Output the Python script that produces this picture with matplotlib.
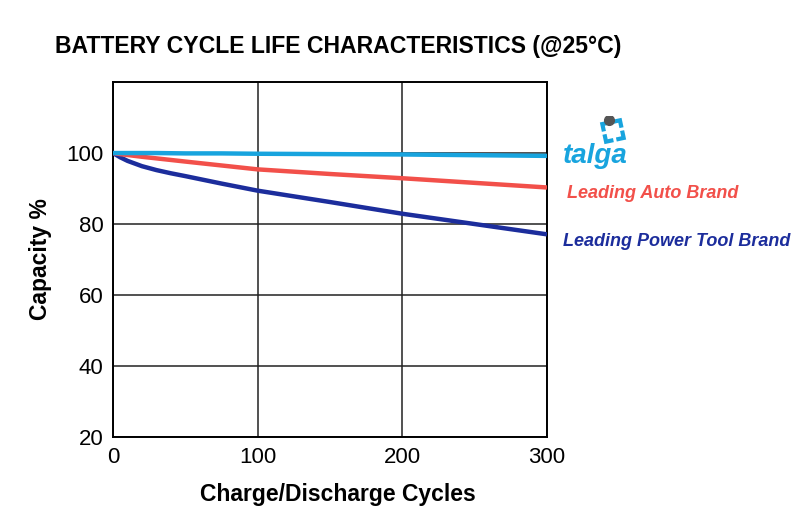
import matplotlib.pyplot as plt
import numpy as np

plt.rcParams['font.family'] = ['Liberation Sans', 'DejaVu Sans']

cycles = [0, 5, 10, 20, 30, 40, 50, 75, 100, 150, 200, 250, 300]
talga = [100, 100, 100, 100, 100, 99.95, 99.9, 99.9, 99.8, 99.7, 99.6, 99.4, 99.2]
auto_brand = [100, 99.7, 99.45, 98.95, 98.5, 98.05, 97.6, 96.5, 95.4, 94.1, 92.9, 91.6, 90.3]
power_tool = [100, 98.8, 97.8, 96.3, 95.2, 94.3, 93.5, 91.4, 89.4, 86.2, 82.9, 80.0, 77.1]

x_ticks = [0, 100, 200, 300]
y_ticks = [20, 40, 60, 80, 100]

c_talga = "#18a4de"
c_auto = "#f2504a"
c_power = "#1c2d9c"

fig = plt.figure(figsize=(8.05, 5.28), dpi=100)
ax = fig.add_axes([0.1404, 0.1723, 0.5391, 0.6723])

ax.plot(cycles, power_tool, color=c_power, lw=3.2, solid_capstyle="butt", zorder=3)
ax.plot(cycles, auto_brand, color=c_auto, lw=3.2, solid_capstyle="butt", zorder=4)
ax.plot(cycles, talga, color=c_talga, lw=3.2, solid_capstyle="butt", zorder=5)

ax.set_xlim(0, 300); ax.set_ylim(20, 120)
ax.set_xticks(x_ticks); ax.set_yticks(y_ticks)
ax.tick_params(length=0, labelsize=16, pad=7)
ax.grid(True, color="#222222", lw=1.1)
for s in ax.spines.values():
    s.set_linewidth(1.4); s.set_color("black")

ax.set_xlabel("Charge/Discharge Cycles", fontsize=16.5, fontweight="bold", va="center")
ax.xaxis.set_label_coords(0.518, -0.163)
ax.set_ylabel("Capacity %", fontsize=16.5, fontweight="bold", labelpad=10)

fig.text(55/805, 1 - 46/528, "BATTERY CYCLE LIFE CHARACTERISTICS (@25°C)",
         fontsize=16.6, fontweight="bold", ha="left", va="center")

# series labels at right
fig.text(563/805, 1 - 156/528, "talga", color=c_talga, fontsize=20,
         fontweight="bold", style="italic", ha="left", va="center")
fig.text(567/805, 1 - 194/528, "Leading Auto Brand", color=c_auto, fontsize=13,
         fontweight="bold", style="italic", ha="left", va="center")
fig.text(563/805, 1 - 242/528, "Leading Power Tool Brand", color=c_power, fontsize=13,
         fontweight="bold", style="italic", ha="left", va="center")

# small logo icon: four corner brackets around a square, grey tip on top
logo = fig.add_axes([598/805, 1 - 146/528, 30/805, 30/528])
logo.set_xlim(0, 1); logo.set_ylim(0, 1); logo.axis("off")
th = np.deg2rad(12)
rot = np.array([[np.cos(th), -np.sin(th)], [np.sin(th), np.cos(th)]])
for cx, cy in [(-1, -1), (-1, 1), (1, -1), (1, 1)]:
    pts = np.array([[cx * 0.3, cy * 0.05], [cx * 0.3, cy * 0.3], [cx * 0.05, cy * 0.3]])
    pts = pts @ rot.T + 0.5
    logo.plot(pts[:, 0], pts[:, 1], color=c_talga, lw=3, solid_joinstyle="miter",
              solid_capstyle="butt")
logo.plot([0.38], [0.86], marker="o", ms=7, color="#555555")

fig.savefig("out.png", dpi=100)
